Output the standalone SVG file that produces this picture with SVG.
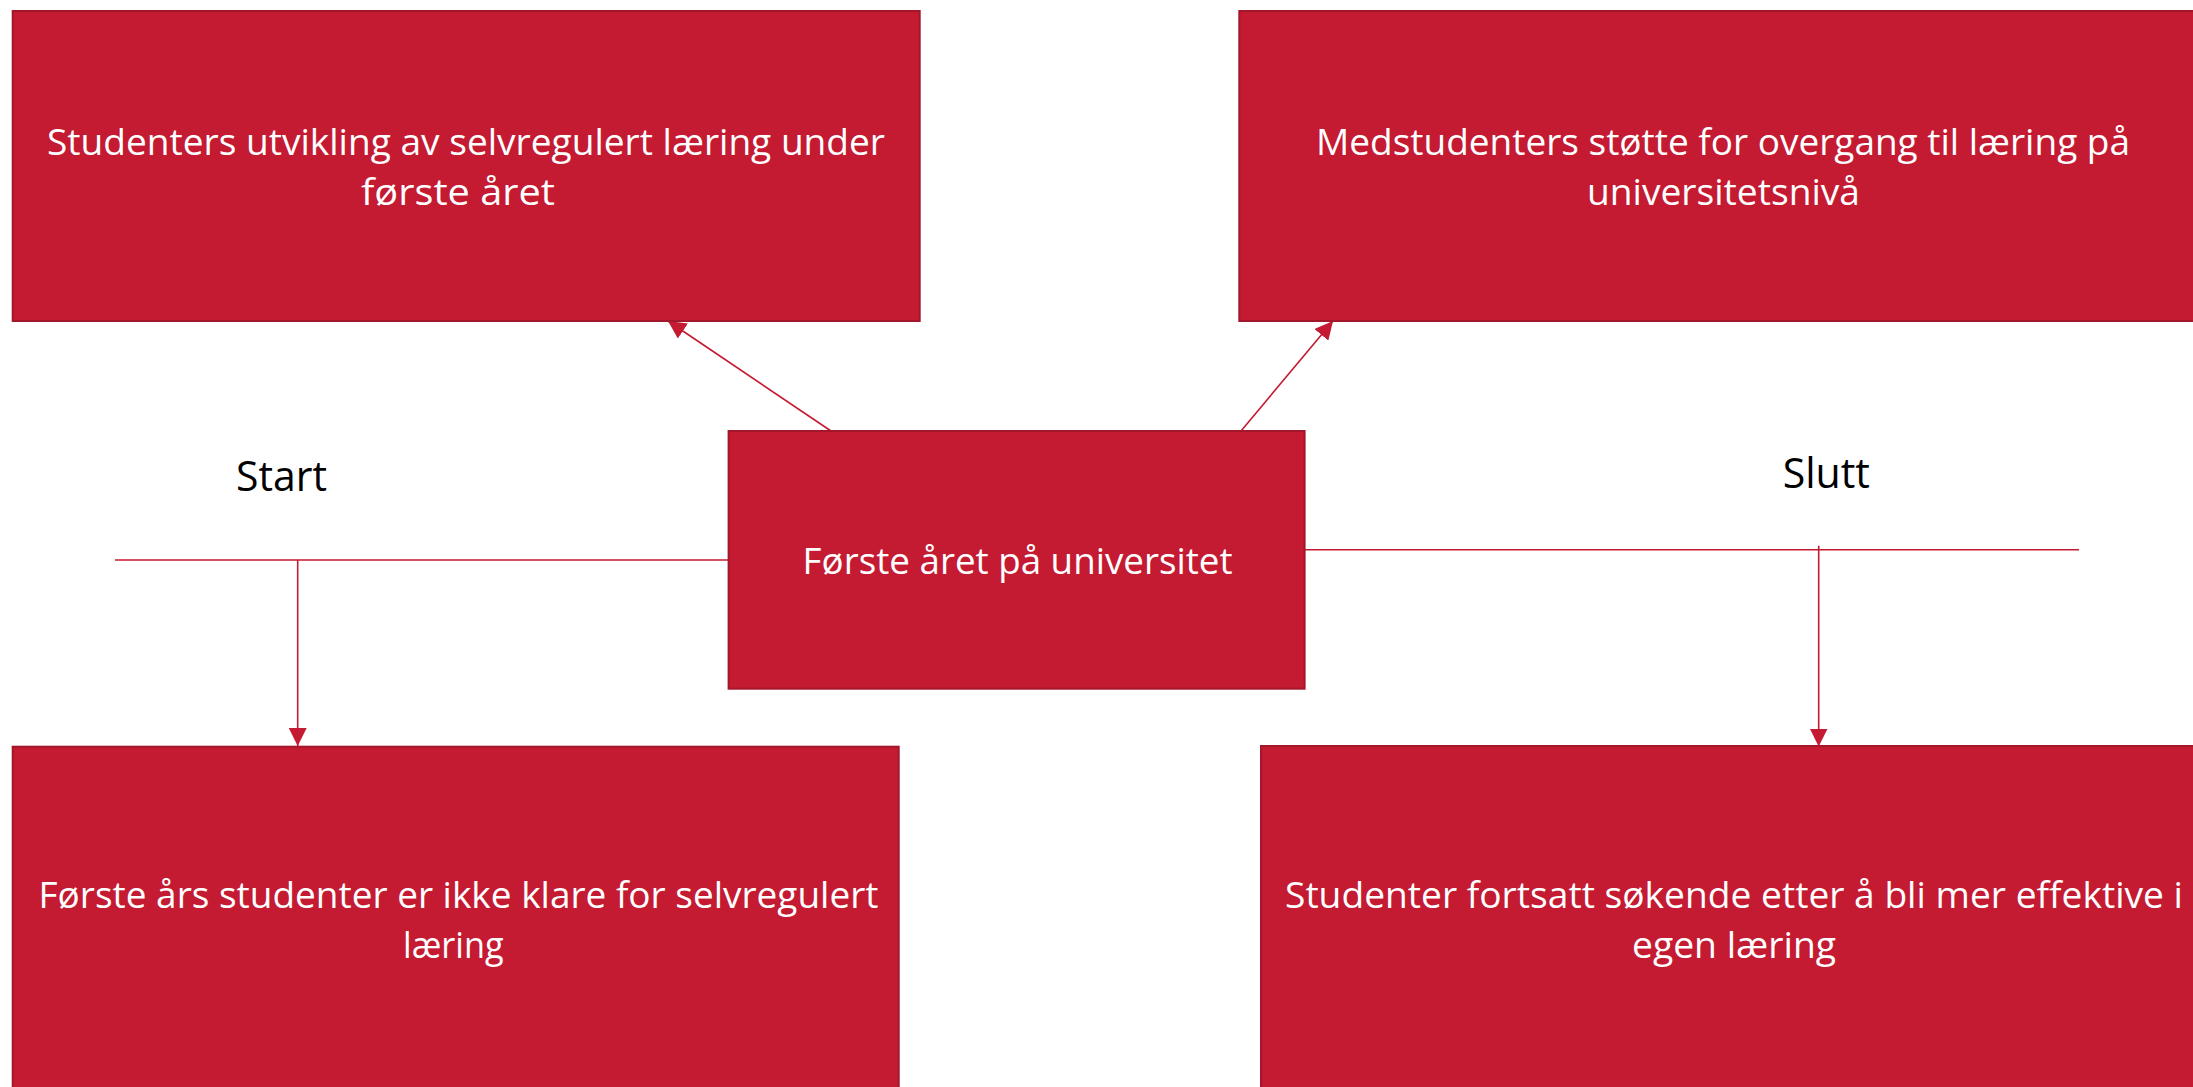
<svg xmlns="http://www.w3.org/2000/svg" width="2193" height="1087" viewBox="0 0 2193 1087">
<style>
.box{fill:#C41A32;stroke:#A3172A;stroke-width:2}
.t{font-family:"Open Sans","Noto Sans","Liberation Sans",sans-serif;font-size:37px;fill:#FFFFFF}
.lbl{font-family:"Open Sans","Noto Sans","Liberation Sans",sans-serif;font-size:42px;fill:#000000}
.c{fill:none;stroke:#C41A32;stroke-width:1.6}
</style>
<defs>
<marker id="ah" markerUnits="userSpaceOnUse" markerWidth="18" markerHeight="18" viewBox="0 0 16 16" refX="16" refY="8" orient="auto">
<path d="M0,0 L16,8 L0,16 Z" fill="#C41A32"/>
</marker>
</defs>
<rect width="2193" height="1087" fill="#FFFFFF"/>
<g id="connectors">
<line class="c" x1="115" y1="560" x2="729" y2="560"/>
<line class="c" x1="297.7" y1="560" x2="297.7" y2="746" marker-end="url(#ah)"/>
<line class="c" x1="1305" y1="549.7" x2="2079" y2="549.7"/>
<line class="c" x1="1818.7" y1="545.7" x2="1818.7" y2="746.5" marker-end="url(#ah)"/>
<line class="c" x1="831" y1="431" x2="668" y2="321" marker-end="url(#ah)"/>
<line class="c" x1="1241" y1="431" x2="1333" y2="321" marker-end="url(#ah)"/>
</g>
<g id="node-tl">
<rect class="box" x="12.7" y="11" width="907" height="310"/>
<text class="t" x="47" y="155" textLength="838" lengthAdjust="spacingAndGlyphs">Studenters utvikling av selvregulert læring under</text>
<text class="t" x="361" y="204.5" textLength="194" lengthAdjust="spacingAndGlyphs">første året</text>
</g>
<g id="node-tr">
<rect class="box" x="1239.3" y="11" width="968" height="310"/>
<text class="t" x="1316" y="155" textLength="814" lengthAdjust="spacingAndGlyphs">Medstudenters støtte for overgang til læring på</text>
<text class="t" x="1587" y="204.5" textLength="273" lengthAdjust="spacingAndGlyphs">universitetsnivå</text>
</g>
<g id="node-center">
<rect class="box" x="728.6" y="431" width="576" height="257.7"/>
<text class="t" x="802.6" y="574" textLength="430" lengthAdjust="spacingAndGlyphs">Første året på universitet</text>
</g>
<g id="node-bl">
<rect class="box" x="12.7" y="746.7" width="886" height="360"/>
<text class="t" x="38.5" y="908.3" textLength="840" lengthAdjust="spacingAndGlyphs">Første års studenter er ikke klare for selvregulert</text>
<text class="t" x="403" y="957.7" textLength="100.7" lengthAdjust="spacingAndGlyphs">læring</text>
</g>
<g id="node-br">
<rect class="box" x="1261" y="746" width="946" height="360"/>
<text class="t" x="1285" y="908.3" textLength="898" lengthAdjust="spacingAndGlyphs">Studenter fortsatt søkende etter å bli mer effektive i</text>
<text class="t" x="1632" y="957.7" textLength="204" lengthAdjust="spacingAndGlyphs">egen læring</text>
</g>
<g id="label-start">
<text class="lbl" x="236" y="491" textLength="91" lengthAdjust="spacingAndGlyphs">Start</text>
</g>
<g id="label-slutt">
<text class="lbl" x="1782.7" y="487.7" textLength="87.3" lengthAdjust="spacingAndGlyphs">Slutt</text>
</g>
</svg>
